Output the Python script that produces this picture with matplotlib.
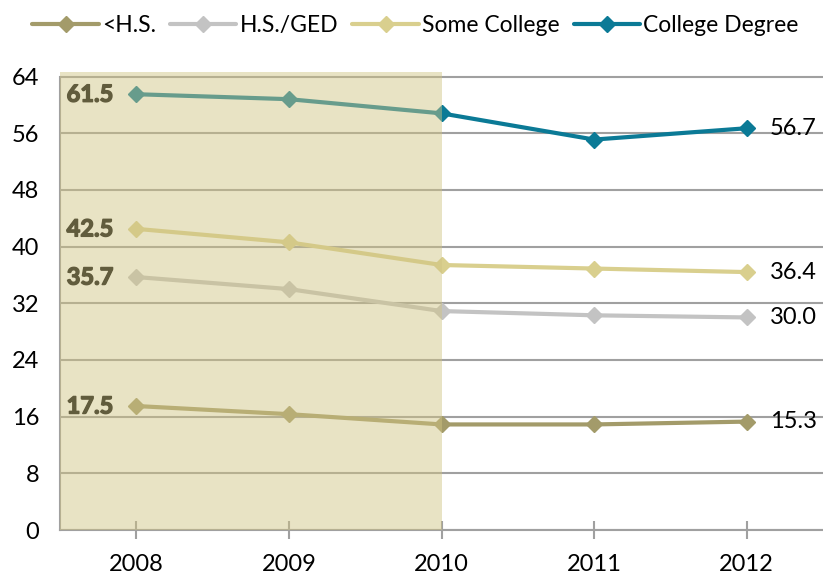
import matplotlib
matplotlib.use("Agg")
import matplotlib.pyplot as plt
import matplotlib.patheffects as pe

plt.rcParams["font.family"] = ["Lato", "DejaVu Sans"]

years = [2008, 2009, 2010, 2011, 2012]
series_names = ["<H.S.", "H.S./GED", "Some College", "College Degree"]
less_hs = [17.5, 16.35, 14.9, 14.9, 15.3]
hs_ged = [35.7, 34.0, 30.9, 30.3, 30.0]
some_college = [42.5, 40.6, 37.4, 36.9, 36.4]
college_degree = [61.5, 60.8, 58.8, 55.1, 56.7]
yticks = [0, 8, 16, 24, 32, 40, 48, 56, 64]
shade_end = 2010

colors = ["#A39B6A", "#C3C3C3", "#D9CF8E", "#0B7A96"]
all_series = [less_hs, hs_ged, some_college, college_degree]

fig = plt.figure(figsize=(8.23, 5.78), dpi=100)
ax = fig.add_axes([0.073, 0.083, 0.927, 0.792])

fake_bold = [pe.withStroke(linewidth=1.0, foreground="black")]
for name, vals, c in zip(series_names, all_series, colors):
    ax.plot(years, vals, color=c, lw=3, marker="D", markersize=8,
            label=name, zorder=3, solid_capstyle="round")
    ax.text(years[0] - 0.15, vals[0], f"{vals[0]:.1f}", ha="right", va="center",
            fontsize=17, fontweight="bold", color="black", zorder=3,
            path_effects=fake_bold)
    ax.text(years[-1] + 0.15, vals[-1], f"{vals[-1]:.1f}", ha="left", va="center",
            fontsize=17, color="black", zorder=3)

# recession shading laid over the lines
ax.axvspan(2007.5, shade_end, ymin=0, ymax=1, color="#D0C482", alpha=0.47,
           lw=0, zorder=4)

ax.set_xlim(2007.5, 2012.5)
ax.set_ylim(0, 64.6)
ax.set_yticks(yticks)
ax.set_xticks(years)
ax.yaxis.grid(True, color="#A0A0A0", lw=1.5, zorder=1)
ax.set_axisbelow(True)
ax.tick_params(axis="y", length=0, labelsize=17, pad=15)
ax.tick_params(axis="x", length=13, direction="inout", color="#A0A0A0",
               width=1.5, labelsize=17, pad=11)
for s in ["top", "right"]:
    ax.spines[s].set_visible(False)
ax.spines["left"].set_color("#A0A0A0")
ax.spines["bottom"].set_color("#A0A0A0")
ax.spines["left"].set_linewidth(1.5)
ax.spines["bottom"].set_linewidth(1.5)
ax.spines["left"].set_bounds(0, 64)

fig.legend(loc="upper center", bbox_to_anchor=(0.505, 1.01), ncol=4, frameon=False,
           fontsize=16.5, handlelength=2.9, columnspacing=0.6, handletextpad=0.15)

fig.savefig("out.png", dpi=100)
